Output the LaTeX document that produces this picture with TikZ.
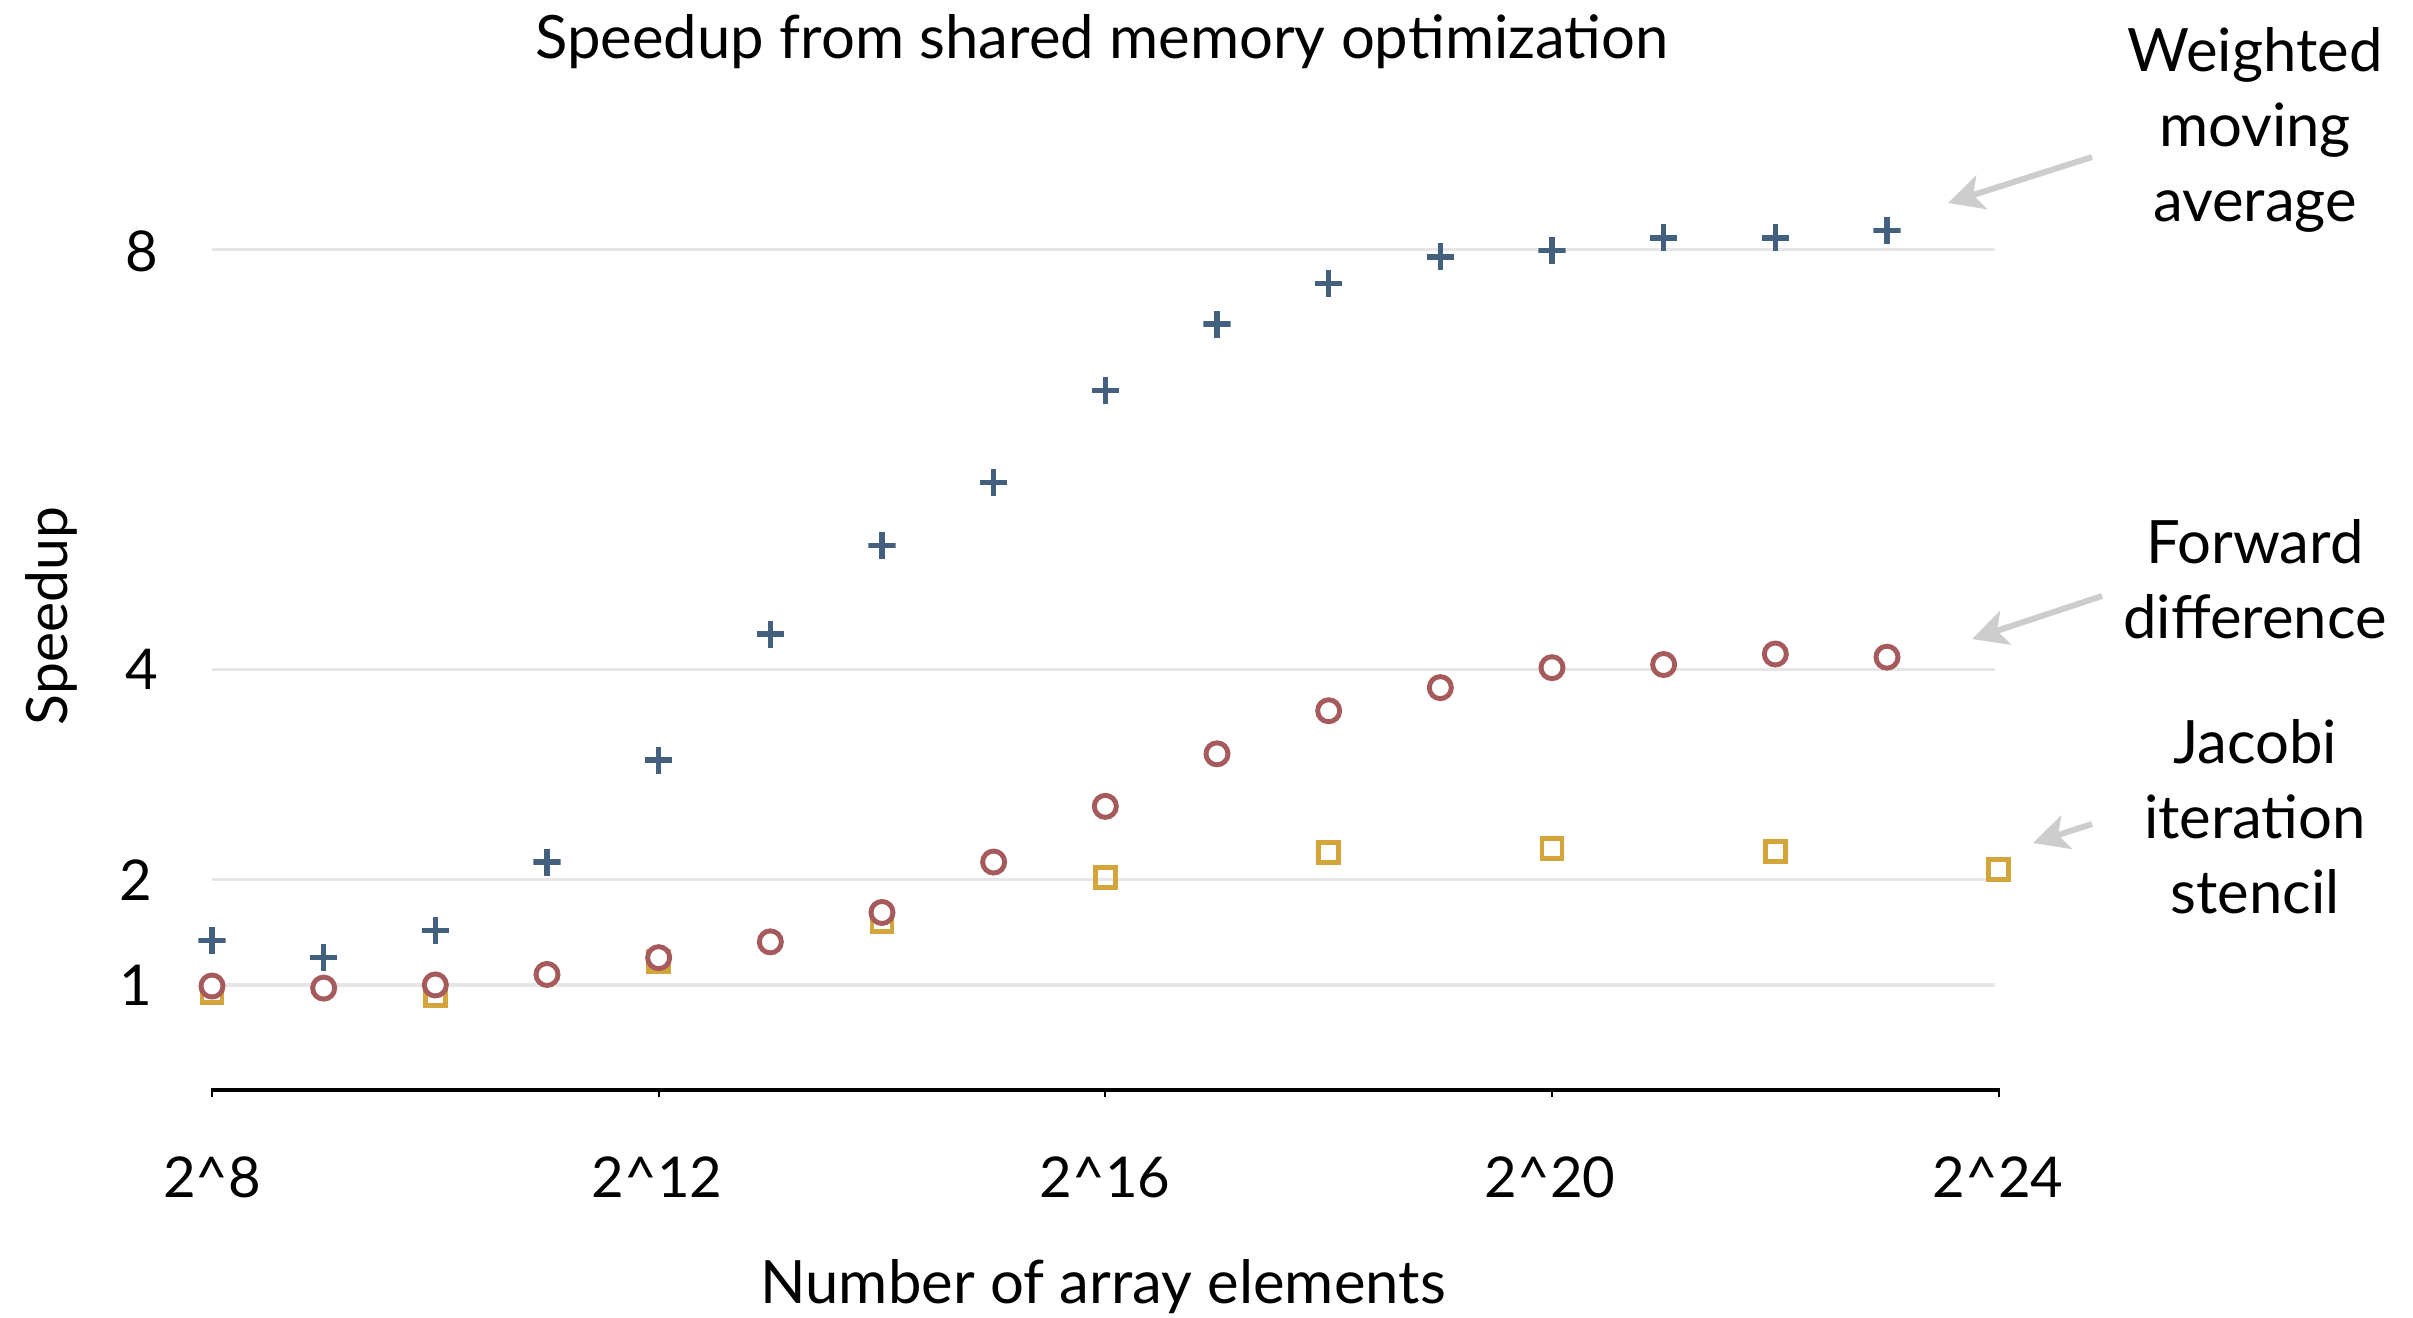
\documentclass[tikz,border=0pt]{standalone}
\usepackage{fontspec}
\setmainfont{Lato}
\usetikzlibrary{arrows.meta}

\definecolor{wmablue}{HTML}{43617F}
\definecolor{fdred}{HTML}{A65A5C}
\definecolor{jacgold}{HTML}{D4A53B}
\definecolor{gridgray}{HTML}{E6E6E6}
\definecolor{arrowgray}{HTML}{CDCDCD}

\tikzset{
  gridline/.style={draw=gridgray, line width=0.9pt},
  axisline/.style={draw=black, line width=0.9pt},
  axistick/.style={draw=black, line width=0.5pt},
  wmamark/.style={minimum size=0.27cm, inner sep=0pt,
    path picture={\draw[wmablue, line width=1.5pt]
      (path picture bounding box.north) -- (path picture bounding box.south)
      (path picture bounding box.west) -- (path picture bounding box.east);}},
  fdmark/.style={circle, draw=fdred, fill=white, line width=1.4pt,
    minimum size=0.22cm, inner sep=0pt},
  jacmark/.style={rectangle, draw=jacgold, line width=1.4pt,
    minimum size=0.2cm, inner sep=0pt},
  titletext/.style={font=\fontsize{17}{20}\selectfont},
  labeltext/.style={font=\fontsize{17}{20}\selectfont},
  ylabeltext/.style={font=\fontsize{16.2}{19}\selectfont},
  ticktext/.style={font=\fontsize{16}{19}\selectfont},
  note/.style={align=center, font=\fontsize{17}{21.3}\selectfont},
  callout/.style={draw=arrowgray, line width=1.7pt,
    -{Stealth[length=10pt, width=10pt, inset=2.5pt]}},
}

\begin{document}
\begin{tikzpicture}[x=0.01cm, y=-0.01cm]
\useasboundingbox (0,0) rectangle (2413,1317);

% title and axis titles
\node[titletext] (title) at (1102,42) {Speedup from shared memory optimization};
\node[labeltext] (xlabel) at (1103,1287) {Number of array elements};
\node[ylabeltext, rotate=90] (ylabel) at (51,616) {Speedup};

% y tick labels
\node[ticktext] (y8) at (142,251) {8};
\node[ticktext] (y4) at (142,669) {4};
\node[ticktext] (y2) at (136,880) {2};
\node[ticktext] (y1) at (136,985) {1};

% x tick labels
\node[ticktext] (x8) at (212,1177) {2\^{}8};
\node[ticktext] (x12) at (657,1177) {2\^{}12};
\node[ticktext] (x16) at (1105,1177) {2\^{}16};
\node[ticktext] (x20) at (1550,1177) {2\^{}20};
\node[ticktext] (x24) at (1998,1177) {2\^{}24};

% data area: x = exponent - 8, y = speedup
\begin{scope}[shift={(212,1090)}, x=1.116cm, y=1.05cm]
  \foreach \v in {1,2,4,8}
    \draw[gridline] (0,\v) -- (15.97,\v);
  \draw[axisline] (0,0) -- (16,0);
  \foreach \k in {0,4,8,12,16}
    \draw[axistick] (\k,0.02) -- (\k,-0.067);

  % Weighted moving average
  \foreach \k/\v in {8/1.42, 9/1.26, 10/1.52, 11/2.17, 12/3.14, 13/4.34,
                     14/5.18, 15/5.78, 16/6.66, 17/7.29, 18/7.68, 19/7.93,
                     20/7.99, 21/8.11, 22/8.11, 23/8.18}
    \node[wmamark] (wma\k) at (\k-8,\v) {};

  % Jacobi iteration stencil
  \foreach \k/\v in {8/0.93, 10/0.90, 12/1.22, 14/1.60, 16/2.02, 18/2.26,
                     20/2.30, 22/2.27, 24/2.10}
    \node[jacmark] (jac\k) at (\k-8,\v) {};

  % Forward difference
  \foreach \k/\v in {8/0.99, 9/0.97, 10/1.00, 11/1.10, 12/1.26, 13/1.41,
                     14/1.69, 15/2.17, 16/2.70, 17/3.20, 18/3.61, 19/3.83,
                     20/4.02, 21/4.05, 22/4.15, 23/4.12}
    \node[fdmark] (fd\k) at (\k-8,\v) {};
\end{scope}

% series annotations
\node[note] (wmanote) at (2255,130) {Weighted\\moving\\average};
\node[note] (fdnote) at (2255,579) {Forward\\difference};
\node[note] (jacnote) at (2255,817) {Jacobi\\iteration\\stencil};

\coordinate (wmatail) at (2092,157);
\coordinate (wmatip) at (1948,203);
\coordinate (fdtail) at (2102,596);
\coordinate (fdtip) at (1972,639);
\coordinate (jactail) at (2092,824);
\coordinate (jactip) at (2033,843);

\draw[callout] (wmatail) -- (wmatip);
\draw[callout] (fdtail) -- (fdtip);
\draw[callout] (jactail) -- (jactip);
\end{tikzpicture}
\end{document}
